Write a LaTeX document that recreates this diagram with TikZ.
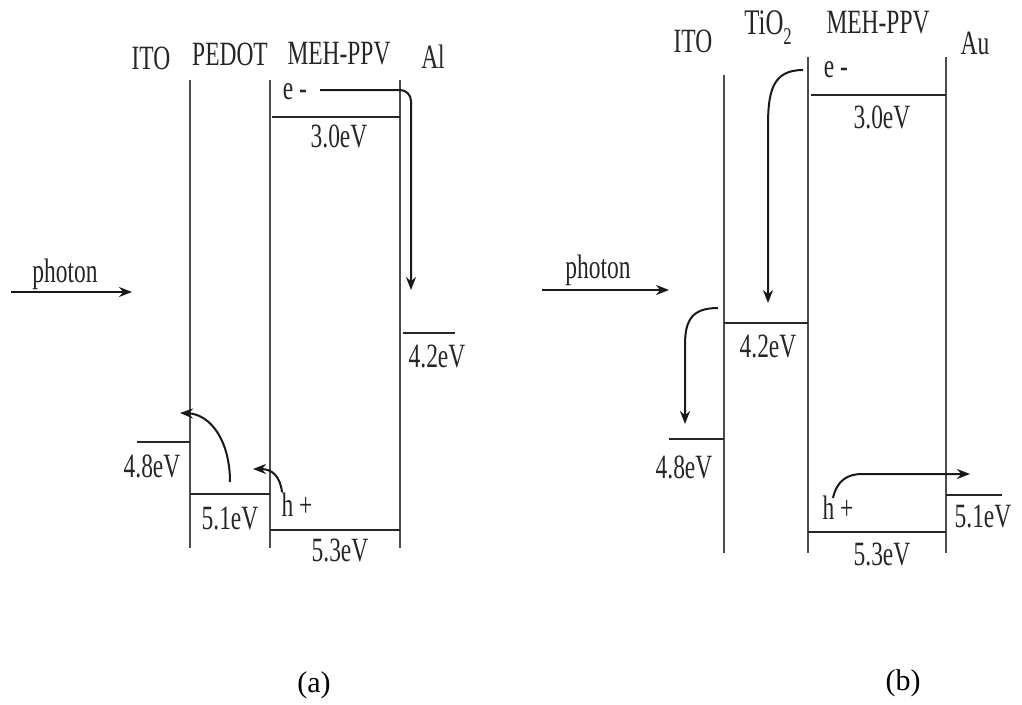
\documentclass[tikz,border=0pt]{standalone}
\usepackage{fontspec}
\setmainfont{Liberation Serif}
\newfontfamily\lblfont{Liberation Serif}[FakeStretch=0.69]
\usetikzlibrary{arrows.meta}
\begin{document}
\begin{tikzpicture}[x=1pt,y=-1pt,
  lbl/.style={font=\lblfont\fontsize{34}{40}\selectfont, inner sep=0pt, text=black!85},
  captext/.style={font=\fontsize{30}{36}\selectfont, inner sep=0pt},
  wall/.style={line width=2pt, draw=black!70},
  level/.style={line width=2.6pt, draw=black!85},
  flow/.style={line width=2pt, draw=black!90, -{Stealth[length=13pt,width=10pt]}}]
\useasboundingbox (0,0) rectangle (1022,704);
\fill[white] (0,0) rectangle (1022,704);

% ---------------- panel (a) ----------------
\node[lbl] (aITO) at (151,58) {ITO};
\node[lbl] (aPED) at (230,54) {PEDOT};
\node[lbl] (aMEH) at (339,54) {MEH-PPV};
\node[lbl] (aAl)  at (433,57) {Al};

\coordinate (aw1t) at (190,80);  \coordinate (aw1b) at (190,548);
\coordinate (aw2t) at (270,80);  \coordinate (aw2b) at (270,548);
\coordinate (aw3t) at (400,80);  \coordinate (aw3b) at (400,548);
\draw[wall] (aw1t) -- (aw1b);
\draw[wall] (aw2t) -- (aw2b);
\draw[wall] (aw3t) -- (aw3b);

% levels
\coordinate (aL30a) at (272,117); \coordinate (aL30b) at (400,117);
\coordinate (aL42a) at (403,333); \coordinate (aL42b) at (455,333);
\coordinate (aL48a) at (137,442); \coordinate (aL48b) at (190,442);
\coordinate (aL51a) at (190,494); \coordinate (aL51b) at (270,494);
\coordinate (aL53a) at (270,530); \coordinate (aL53b) at (400,530);
\draw[level] (aL30a) -- (aL30b);
\draw[level] (aL42a) -- (aL42b);
\draw[level] (aL48a) -- (aL48b);
\draw[level] (aL51a) -- (aL51b);
\draw[level] (aL53a) -- (aL53b);

\node[lbl] (a30) at (339,136) {3.0eV};
\node[lbl] (a42) at (437,356) {4.2eV};
\node[lbl] (a48) at (152,466) {4.8eV};
\node[lbl] (a51) at (230,519) {5.1eV};
\node[lbl] (a53) at (340,550) {5.3eV};
\node[lbl] (ae)  at (295,92) {e -};
\node[lbl] (ah)  at (297,505) {h +};
\node[lbl] (aph) at (65,274) {photon};

% arrows
\coordinate (aph1) at (11,292); \coordinate (aph2) at (132,292);
\draw[flow] (aph1) -- (aph2);
\coordinate (aes) at (320,90); \coordinate (aee) at (411,290);
\draw[flow, rounded corners=11pt] (aes) -- (aes -| aee) -- (aee);
\coordinate (ahs) at (230,482); \coordinate (ahe) at (180,413);
\draw[flow] (ahs) .. controls (230,440) and (210,414) .. (ahe);
\coordinate (ahs2) at (282,492); \coordinate (ahe2) at (253,469);
\draw[flow] (ahs2) .. controls (280,476) and (272,469) .. (ahe2);

\node[captext] (capa) at (314,685) {(a)};

% ---------------- panel (b) ----------------
\node[lbl] (bITO) at (693,41) {ITO};
\node[lbl, anchor=base, font=\lblfont\fontsize{36}{42}\selectfont] (bTiO) at (768,34) {TiO\raisebox{-0.28em}{\fontsize{24}{28}\selectfont 2}};
\node[lbl] (bMEH) at (878,23) {MEH-PPV};
\node[lbl] (bAu)  at (975,43) {Au};

\coordinate (bw1t) at (724,75);  \coordinate (bw1b) at (724,553);
\coordinate (bw2t) at (808,57);  \coordinate (bw2b) at (808,553);
\coordinate (bw3t) at (946,57);  \coordinate (bw3b) at (946,553);
\draw[wall] (bw1t) -- (bw1b);
\draw[wall] (bw2t) -- (bw2b);
\draw[wall] (bw3t) -- (bw3b);

\coordinate (bL30a) at (811,95);  \coordinate (bL30b) at (946,95);
\coordinate (bL42a) at (724,323); \coordinate (bL42b) at (808,323);
\coordinate (bL48a) at (669,439); \coordinate (bL48b) at (724,439);
\coordinate (bL51a) at (946,495); \coordinate (bL51b) at (1002,495);
\coordinate (bL53a) at (808,532); \coordinate (bL53b) at (946,532);
\draw[level] (bL30a) -- (bL30b);
\draw[level] (bL42a) -- (bL42b);
\draw[level] (bL48a) -- (bL48b);
\draw[level] (bL51a) -- (bL51b);
\draw[level] (bL53a) -- (bL53b);

\node[lbl] (b30) at (882,117) {3.0eV};
\node[lbl] (b42) at (768,346) {4.2eV};
\node[lbl] (b48) at (684,467) {4.8eV};
\node[lbl] (b51) at (983,517) {5.1eV};
\node[lbl] (b53) at (882,554) {5.3eV};
\node[lbl] (be)  at (836,70) {e -};
\node[lbl] (bh)  at (838,508) {h +};
\node[lbl] (bph) at (598,270) {photon};

\coordinate (bph1) at (542,290); \coordinate (bph2) at (669,290);
\draw[flow] (bph1) -- (bph2);
\coordinate (bes) at (803,70); \coordinate (bee) at (768,303);
\draw[flow] (bes) .. controls (772,70) and (768,92) .. (768,127) -- (bee);
\coordinate (bcs) at (718,308); \coordinate (bce) at (685,424);
\draw[flow] (bcs) .. controls (692,308) and (685,320) .. (685,345) -- (bce);
\coordinate (bhs) at (833,498); \coordinate (bhe) at (970,474);
\draw[flow] (bhs) .. controls (837,480) and (848,474) .. (862,474) -- (bhe);

\node[captext] (capb) at (903,683) {(b)};
\end{tikzpicture}
\end{document}
